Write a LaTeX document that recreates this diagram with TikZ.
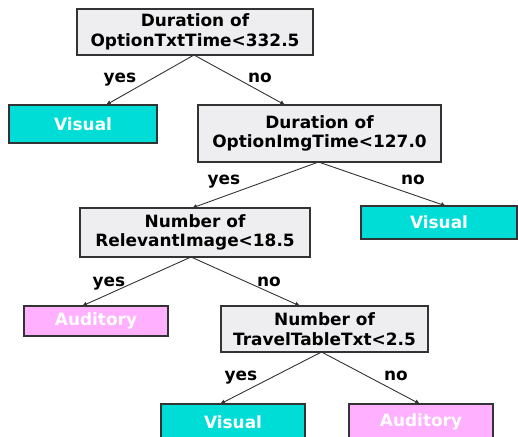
\documentclass[tikz,border=0pt]{standalone}
\usepackage{fontspec}
\setmainfont{DejaVu Sans}
\usetikzlibrary{arrows.meta}
\definecolor{boxgray}{HTML}{EEEEF0}
\definecolor{leafcyan}{HTML}{00DDD6}
\definecolor{leafpink}{HTML}{FFB0FF}
\definecolor{edgegray}{HTML}{333333}
\tikzset{
  every node/.style={inner sep=0pt, outer sep=0pt},
  txt/.style={font=\bfseries\fontsize{17}{19.5}\selectfont},
  testbox/.style={txt, draw=edgegray, line width=1.2bp, fill=boxgray, align=center, text=black},
  leafbox/.style={txt, draw=edgegray, line width=1.2bp, text=white},
  vis/.style={leafbox, fill=leafcyan},
  aud/.style={leafbox, fill=leafpink},
  branch/.style={draw=edgegray, line width=0.9bp, -{Latex[length=5bp,width=5bp]}},
  lab/.style={txt, anchor=base, text=black}
}
\begin{document}
\begin{tikzpicture}[x=1bp,y=-1bp]
\useasboundingbox (0,0) rectangle (518,437);
% decision nodes
\node[testbox, minimum width=236bp, minimum height=46bp] (root) at (195,32) {Duration of\\OptionTxtTime<332.5};
\node[testbox, minimum width=243bp, minimum height=57bp] (img) at (319.5,133.5) {Duration of\\OptionImgTime<127.0};
\node[testbox, minimum width=230bp, minimum height=49bp] (rel) at (195,232.5) {Number of\\RelevantImage<18.5};
\node[testbox, minimum width=207bp, minimum height=46bp] (trav) at (324.5,329) {Number of\\TravelTableTxt<2.5};
% leaves
\node[vis, minimum width=148bp, minimum height=38bp] (v1) at (83,124) {Visual};
\node[vis, minimum width=156bp, minimum height=33bp] (v2) at (439,222.5) {Visual};
\node[aud, minimum width=144bp, minimum height=30bp] (a1) at (96,321) {Auditory};
\node[vis, minimum width=144bp, minimum height=36bp] (v3) at (233,422) {Visual};
\node[aud, minimum width=144bp, minimum height=36bp] (a2) at (421,422) {Auditory};
% branches
\draw[branch] ([xshift=-1]root.south) -- ([xshift=23]v1.north);
\draw[branch] ([xshift=-1]root.south) -- ([xshift=-34.5]img.north);
\draw[branch] ([xshift=-1]img.south) -- ([xshift=-3]rel.north);
\draw[branch] ([xshift=-1]img.south) -- ([xshift=7]v2.north);
\draw[branch] ([xshift=-4]rel.south) -- ([xshift=-14]a1.north);
\draw[branch] ([xshift=-4]rel.south) -- ([xshift=-24.5]trav.north);
\draw[branch] ([xshift=-3]trav.south) -- ([xshift=-13]v3.north);
\draw[branch] ([xshift=-3]trav.south) -- ([xshift=-1]a2.north);
% labels
\node[lab] (l1) at (120,83) {yes};
\node[lab] (l2) at (260,83) {no};
\node[lab] (l3) at (224,185) {yes};
\node[lab] (l4) at (413,185) {no};
\node[lab] (l5) at (109,286) {yes};
\node[lab] (l6) at (269,286) {no};
\node[lab] (l7) at (241,380) {yes};
\node[lab] (l8) at (396,380) {no};
\end{tikzpicture}
\end{document}
